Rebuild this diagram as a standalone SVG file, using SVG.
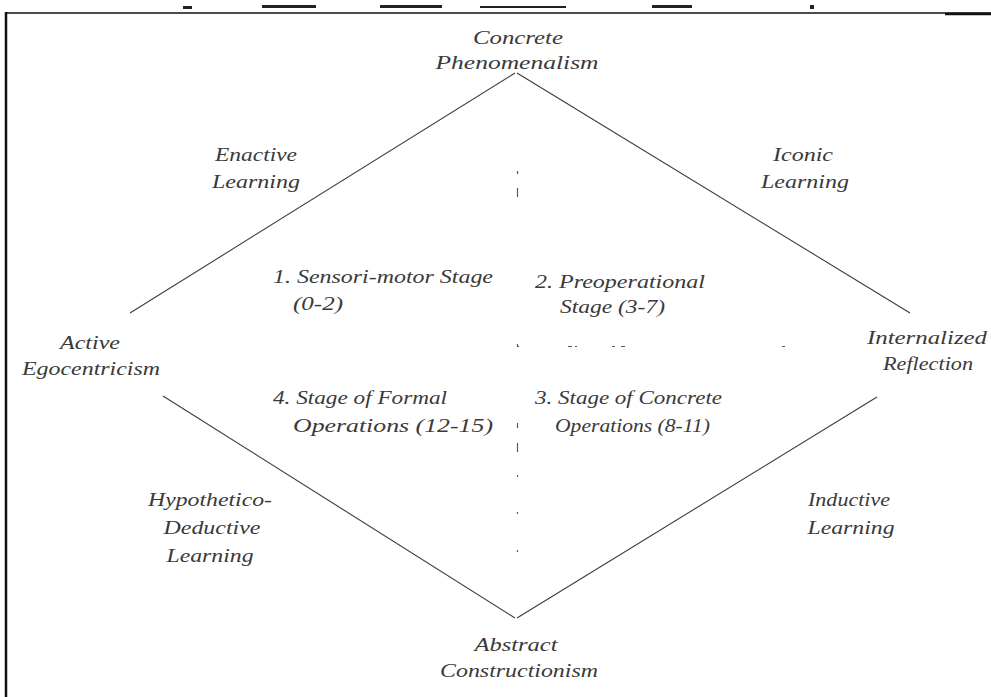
<svg xmlns="http://www.w3.org/2000/svg" width="991" height="697" viewBox="0 0 991 697">
  <style>
    text { font-family: "Liberation Serif", "Times New Roman", serif; font-style: italic; font-size: 18px; fill: #3a3a3a; }
    .edge { stroke: #3c3c3c; stroke-width: 1.1; fill: none; }
    .guide { stroke: #5a5a5a; stroke-width: 1.2; fill: none; }
    .frame { stroke: #111; fill: none; }
  </style>
  <rect width="991" height="697" fill="#ffffff"/>
  <g id="frame">
    <line class="frame" x1="6" y1="13" x2="991" y2="13" stroke-width="1.6"/>
    <line class="frame" x1="945" y1="14" x2="991" y2="14" stroke-width="2.5"/>
    <line class="frame" x1="6" y1="12" x2="6" y2="697" stroke-width="2.5"/>
    <g fill="#222">
      <rect x="183" y="6" width="9" height="3"/>
      <rect x="262" y="5" width="54" height="3"/>
      <rect x="380" y="5" width="62" height="3"/>
      <rect x="480" y="6" width="86" height="2"/>
      <rect x="652" y="5" width="40" height="3"/>
      <rect x="810" y="5" width="4" height="4"/>
    </g>
  </g>
  <g id="connectors">
    <line class="edge" x1="515" y1="73" x2="130" y2="313"/>
    <line class="edge" x1="517" y1="73" x2="910" y2="313"/>
    <line class="edge" x1="163" y1="396" x2="515" y2="618"/>
    <line class="edge" x1="877" y1="397" x2="517" y2="618"/>
    <path class="guide" d="M517.5 171v3M517.5 188v9M517.5 344v2M517.5 423v5M517.5 443v9M517.5 475v2M517.5 512v2M517.5 550v2"/>
    <path class="guide" d="M517 346.5h2M568 346.5h4M575 346.5h2M612 346.5h3M621 346.5h4M782 346.5h3"/>
  </g>
  <g id="concrete-phenomenalism">
    <text x="518" y="44" text-anchor="middle" textLength="90" lengthAdjust="spacingAndGlyphs">Concrete</text>
    <text x="517" y="69" text-anchor="middle" textLength="163" lengthAdjust="spacingAndGlyphs">Phenomenalism</text>
  </g>
  <g id="enactive-learning">
    <text x="256" y="161" text-anchor="middle" textLength="82" lengthAdjust="spacingAndGlyphs">Enactive</text>
    <text x="256" y="188" text-anchor="middle" textLength="88" lengthAdjust="spacingAndGlyphs">Learning</text>
  </g>
  <g id="iconic-learning">
    <text x="803" y="161" text-anchor="middle" textLength="60" lengthAdjust="spacingAndGlyphs">Iconic</text>
    <text x="805" y="188" text-anchor="middle" textLength="88" lengthAdjust="spacingAndGlyphs">Learning</text>
  </g>
  <g id="stage-1">
    <text x="273" y="283" textLength="220" lengthAdjust="spacingAndGlyphs">1. Sensori-motor Stage</text>
    <text x="293" y="310" textLength="50" lengthAdjust="spacingAndGlyphs">(0-2)</text>
  </g>
  <g id="stage-2">
    <text x="535" y="288" textLength="170" lengthAdjust="spacingAndGlyphs">2. Preoperational</text>
    <text x="560" y="313" textLength="105" lengthAdjust="spacingAndGlyphs">Stage (3-7)</text>
  </g>
  <g id="active-egocentricism">
    <text x="90" y="349" text-anchor="middle" textLength="60" lengthAdjust="spacingAndGlyphs">Active</text>
    <text x="91" y="375" text-anchor="middle" textLength="138" lengthAdjust="spacingAndGlyphs">Egocentricism</text>
  </g>
  <g id="internalized-reflection">
    <text x="927" y="344" text-anchor="middle" textLength="120" lengthAdjust="spacingAndGlyphs">Internalized</text>
    <text x="928" y="370" text-anchor="middle" textLength="90" lengthAdjust="spacingAndGlyphs">Reflection</text>
  </g>
  <g id="stage-4">
    <text x="273" y="404" textLength="174" lengthAdjust="spacingAndGlyphs">4. Stage of Formal</text>
    <text x="293" y="432" textLength="200" lengthAdjust="spacingAndGlyphs">Operations (12-15)</text>
  </g>
  <g id="stage-3">
    <text x="535" y="404" textLength="187" lengthAdjust="spacingAndGlyphs">3. Stage of Concrete</text>
    <text x="555" y="432" textLength="155" lengthAdjust="spacingAndGlyphs">Operations (8-11)</text>
  </g>
  <g id="hypothetico-deductive-learning">
    <text x="210" y="506" text-anchor="middle" textLength="124" lengthAdjust="spacingAndGlyphs">Hypothetico-</text>
    <text x="212" y="534" text-anchor="middle" textLength="97" lengthAdjust="spacingAndGlyphs">Deductive</text>
    <text x="210" y="562" text-anchor="middle" textLength="87" lengthAdjust="spacingAndGlyphs">Learning</text>
  </g>
  <g id="inductive-learning">
    <text x="849" y="506" text-anchor="middle" textLength="82" lengthAdjust="spacingAndGlyphs">Inductive</text>
    <text x="851" y="534" text-anchor="middle" textLength="87" lengthAdjust="spacingAndGlyphs">Learning</text>
  </g>
  <g id="abstract-constructionism">
    <text x="516" y="651" text-anchor="middle" textLength="83" lengthAdjust="spacingAndGlyphs">Abstract</text>
    <text x="519" y="677" text-anchor="middle" textLength="158" lengthAdjust="spacingAndGlyphs">Constructionism</text>
  </g>
</svg>
